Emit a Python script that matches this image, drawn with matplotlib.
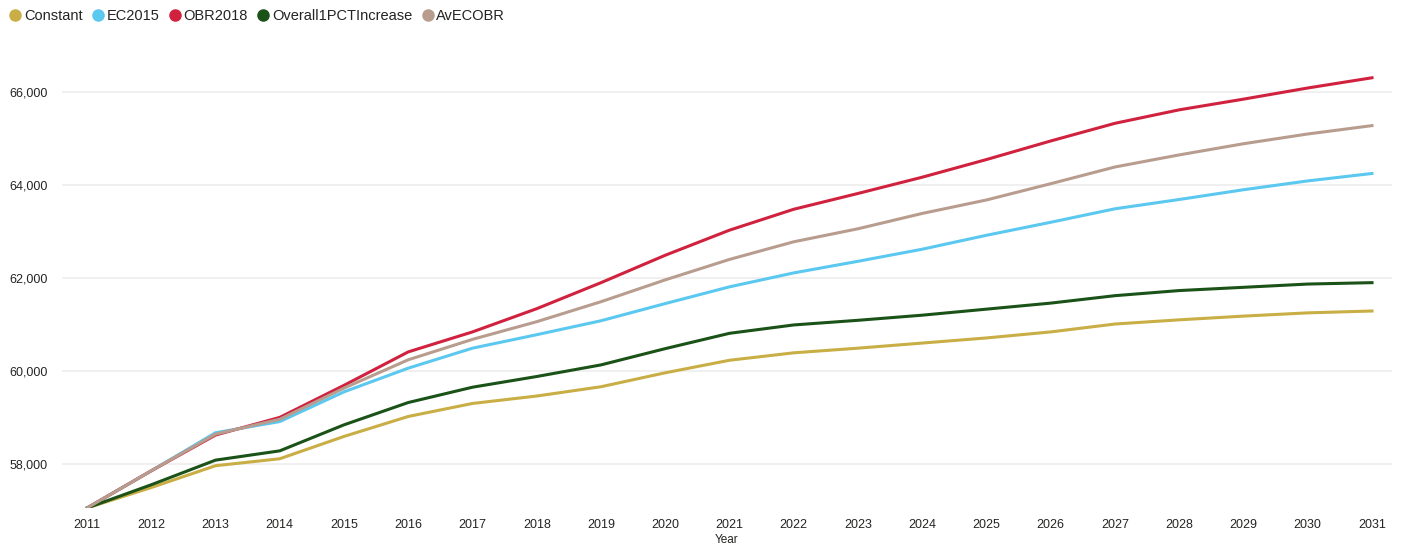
import numpy as np
import matplotlib.pyplot as plt
from matplotlib.lines import Line2D
from matplotlib.ticker import FuncFormatter

plt.rcParams['font.family'] = ['Liberation Sans', 'DejaVu Sans']

years = list(range(2011, 2032))

constant = [57050, 57490, 57960, 58110, 58590, 59020, 59300, 59460, 59660, 59960, 60230,
            60390, 60490, 60600, 60710, 60840, 61010, 61100, 61180, 61250, 61290]
ec2015 = [57050, 57850, 58670, 58910, 59550, 60060, 60490, 60780, 61080, 61450, 61810,
          62110, 62360, 62620, 62920, 63200, 63490, 63690, 63900, 64090, 64250]
obr2018 = [57050, 57850, 58620, 59000, 59690, 60410, 60840, 61340, 61900, 62490, 63030,
           63480, 63820, 64170, 64550, 64950, 65330, 65620, 65850, 66090, 66310]
overall1pct = [57050, 57550, 58080, 58280, 58840, 59320, 59650, 59880, 60130, 60480, 60810,
               60990, 61090, 61200, 61330, 61460, 61620, 61730, 61800, 61870, 61900]
avecobr = [57050, 57850, 58640, 58960, 59630, 60240, 60680, 61060, 61490, 61960, 62400,
           62780, 63060, 63390, 63680, 64030, 64390, 64650, 64890, 65100, 65280]

series_names = ["Constant", "EC2015", "OBR2018", "Overall1PCTIncrease", "AvECOBR"]
series_values = [constant, ec2015, obr2018, overall1pct, avecobr]
colors = ["#C9AE45", "#5BC8F0", "#D0223E", "#1A5218", "#B89D8F"]

yticks = [58000, 60000, 62000, 64000, 66000]

W, H = 1403, 546
fig = plt.figure(figsize=(W / 100, H / 100), dpi=100)
ax = fig.add_axes([62 / W, (H - 508) / H, (1392 - 62) / W, (508 - 55) / H])

for name, vals, c in zip(series_names, series_values, colors):
    ax.plot(years, vals, color=c, lw=2.2, label=name, solid_joinstyle='round')

ax.set_xlim(2011 - 25 / 64.25, 2031 + 20 / 64.25)
ax.set_ylim(57050, 66800)
ax.set_xticks(years)
ax.set_yticks(yticks)
ax.yaxis.set_major_formatter(FuncFormatter(lambda v, p: f"{int(v):,}"))
ax.tick_params(axis='both', length=0, labelsize=9, colors='#252423')
ax.tick_params(axis='y', pad=10)
ax.tick_params(axis='x', pad=8)
ax.grid(axis='y', color='#EDEDED', lw=1.2)
for s in ax.spines.values():
    s.set_visible(False)
ax.set_xlabel("Year", fontsize=8.5, color='#252423', labelpad=2)

handles = [Line2D([], [], marker='o', ls='none', ms=8, color=c) for c in colors]
leg = fig.legend(handles, series_names, loc='upper left', bbox_to_anchor=(8 / W, 1 - 6 / H),
                 ncol=5, frameon=False, fontsize=10.5, handlelength=0.6, handletextpad=0.3,
                 columnspacing=0.75, borderaxespad=0, borderpad=0.2)
for t in leg.get_texts():
    t.set_color('#252423')

fig.savefig("out.png", dpi=100)
